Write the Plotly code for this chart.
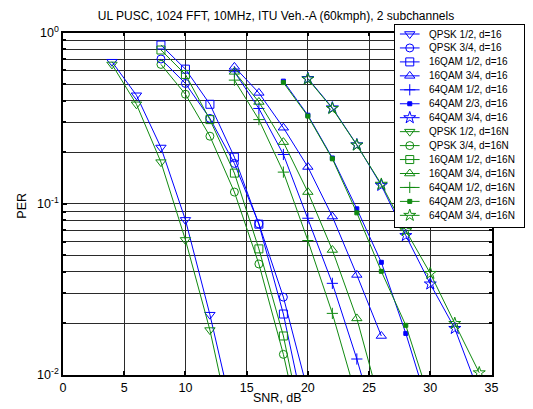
import plotly.graph_objects as go

# ---------------- data ----------------
snr_qpsk12 = [4, 6, 8, 10, 12, 14]
per_qpsk12_d16 = [0.675, 0.43, 0.213, 0.0805, 0.0225, 0.0054]
per_qpsk12_d16n = [0.651, 0.381, 0.175, 0.0615, 0.0183, 0.004]

snr_qpsk34 = [8, 10, 12, 14, 16, 18, 20]
per_qpsk34_d16 = [0.70, 0.504, 0.315, 0.172, 0.0763, 0.0285, 0.008]
per_qpsk34_d16n = [0.651, 0.436, 0.248, 0.117, 0.0445, 0.0132, 0.003]

snr_16qam12 = [8, 10, 12, 14, 16, 18, 20]
per_16qam12_d16 = [0.845, 0.611, 0.381, 0.187, 0.076, 0.0227, 0.0048]
per_16qam12_d16n = [0.79, 0.569, 0.31, 0.151, 0.0545, 0.0169, 0.0035]

snr_16qam34 = [14, 16, 18, 20, 22, 24, 26]
per_16qam34_d16 = [0.63, 0.444, 0.278, 0.164, 0.0842, 0.0384, 0.0169]
per_16qam34_d16n = [0.589, 0.393, 0.229, 0.117, 0.0537, 0.0214, 0.0064]

snr_64qam12_d16 = [14, 16, 18, 20, 22, 24, 26]
per_64qam12_d16 = [0.59, 0.36, 0.194, 0.0823, 0.0343, 0.0124, 0.004]
snr_64qam12_d16n = [14, 16, 18, 20, 22, 24]
per_64qam12_d16n = [0.527, 0.31, 0.153, 0.061, 0.0229, 0.0073]

snr_64qam23 = [18, 20, 22, 24, 26, 28, 30]
per_64qam23_d16 = [0.52, 0.329, 0.185, 0.0934, 0.0455, 0.0175, 0.006]
per_64qam23_d16n = [0.51, 0.325, 0.183, 0.0885, 0.0403, 0.0195, 0.007]

snr_64qam34 = [20, 22, 24, 26, 28, 30, 32, 34]
per_64qam34_d16 = [0.539, 0.363, 0.221, 0.128, 0.0652, 0.034, 0.0187, 0.0078]
per_64qam34_d16n = [0.535, 0.36, 0.22, 0.13, 0.0697, 0.0392, 0.020, 0.0103]

x_ticks = [0, 5, 10, 15, 20, 25, 30, 35]
y_ticks = [0.01, 0.1, 1.0]
y_ticktext = ["10<sup>-2</sup>", "10<sup>-1</sup>", "10<sup>0</sup>"]
y_minor = [k * 10.0 ** e for e in (-2, -1) for k in range(2, 10)]

title = "UL PUSC, 1024 FFT, 10MHz, ITU Veh.-A (60kmph), 2 subchannels"

BLUE = "#0000ff"
GREEN = "#108a10"

series = [
    ("QPSK 1/2, d=16", snr_qpsk12, per_qpsk12_d16, BLUE, "triangle-down-open", 9),
    ("QPSK 3/4, d=16", snr_qpsk34, per_qpsk34_d16, BLUE, "circle-open", 8),
    ("16QAM 1/2, d=16", snr_16qam12, per_16qam12_d16, BLUE, "square-open", 8),
    ("16QAM 3/4, d=16", snr_16qam34, per_16qam34_d16, BLUE, "triangle-up-open", 9),
    ("64QAM 1/2, d=16", snr_64qam12_d16, per_64qam12_d16, BLUE, "cross-thin-open", 8),
    ("64QAM 2/3, d=16", snr_64qam23, per_64qam23_d16, BLUE, "square", 4),
    ("64QAM 3/4, d=16", snr_64qam34, per_64qam34_d16, BLUE, "star-open", 9),
    ("QPSK 1/2, d=16N", snr_qpsk12, per_qpsk12_d16n, GREEN, "triangle-down-open", 9),
    ("QPSK 3/4, d=16N", snr_qpsk34, per_qpsk34_d16n, GREEN, "circle-open", 8),
    ("16QAM 1/2, d=16N", snr_16qam12, per_16qam12_d16n, GREEN, "square-open", 8),
    ("16QAM 3/4, d=16N", snr_16qam34, per_16qam34_d16n, GREEN, "triangle-up-open", 9),
    ("64QAM 1/2, d=16N", snr_64qam12_d16n, per_64qam12_d16n, GREEN, "cross-thin-open", 8),
    ("64QAM 2/3, d=16N", snr_64qam23, per_64qam23_d16n, GREEN, "square", 4),
    ("64QAM 3/4, d=16N", snr_64qam34, per_64qam34_d16n, GREEN, "star-open", 9),
]

FONT = "Liberation Sans, Arial, Helvetica, sans-serif"

fig = go.Figure()
for name, xs, ys, col, sym, size in series:
    fig.add_trace(go.Scatter(
        x=xs, y=ys, mode="lines+markers", name=name, showlegend=False,
        line=dict(color=col, width=1),
        marker=dict(symbol=sym, size=size, color=col, line=dict(color=col, width=1)),
        xaxis="x", yaxis="y",
    ))

# ---------------- hand-made legend box (second subplot) ----------------
LEG_W, LEG_H = 131, 202
row0, drow = 9, 13.95
for i, (name, xs, ys, col, sym, size) in enumerate(series):
    yy = row0 + drow * i
    fig.add_trace(go.Scatter(x=[5, 25], y=[yy, yy], mode="lines", showlegend=False,
                             line=dict(color=col, width=1), xaxis="x2", yaxis="y2",
                             hoverinfo="skip"))
    fig.add_trace(go.Scatter(x=[15], y=[yy], mode="markers", showlegend=False,
                             marker=dict(symbol=sym, size=size, color=col,
                                         line=dict(color=col, width=1)),
                             xaxis="x2", yaxis="y2", hoverinfo="skip"))
    fig.add_annotation(x=33, y=yy, xref="x2", yref="y2", text=name, showarrow=False,
                       xanchor="left", yanchor="middle",
                       font=dict(size=10, color="black", family=FONT))

W, H = 533, 409
ML, MR, MT, MB = 63, 1, 25, 34
PW, PH = W - ML - MR, H - MT - MB
x_right, y_top = 498, 32.5
leg_l, leg_r, leg_b = 400, 531, 227

GRID = "#2a2a2a"
axis_common = dict(
    showline=True, linecolor="black", linewidth=1.5, mirror="allticks",
    ticks="inside", tickcolor="black", tickwidth=1.5, ticklen=4,
    showgrid=True, gridcolor=GRID, gridwidth=1, zeroline=False,
    tickfont=dict(size=12.5, color="black", family=FONT),
)

fig.update_layout(
    width=W, height=H, autosize=False,
    margin=dict(l=ML, r=MR, t=MT, b=MB, pad=0),
    paper_bgcolor="white", plot_bgcolor="white",
    font=dict(family=FONT, color="black"),
    title=dict(text=title, x=276 / W, xanchor="center", y=1 - 16 / H, yanchor="middle",
               font=dict(size=12, color="black", family=FONT)),
    xaxis=dict(range=[0, 35], tickvals=x_ticks, ticktext=[str(v) for v in x_ticks],
               domain=[0, (x_right - ML) / PW], **axis_common),
    yaxis=dict(type="log", range=[-2, 0], tickvals=y_ticks, ticktext=y_ticktext,
               domain=[0, (H - MB - y_top) / PH],
               minor=dict(tickmode="array", tickvals=y_minor, ticks="inside",
                          ticklen=3, tickwidth=1.5, tickcolor="black",
                          showgrid=True, gridcolor=GRID, gridwidth=1),
               **axis_common),
    xaxis2=dict(range=[0, LEG_W], domain=[(leg_l - ML) / PW, (leg_r - ML) / PW],
                anchor="y2", showgrid=False, zeroline=False, showticklabels=False,
                ticks="", showline=True, linecolor="black", linewidth=1, mirror=True),
    yaxis2=dict(range=[LEG_H, 0], domain=[(H - MB - leg_b) / PH, 1.0],
                anchor="x2", showgrid=False, zeroline=False, showticklabels=False,
                ticks="", showline=True, linecolor="black", linewidth=1, mirror=True),
    showlegend=False,
)

fig.add_annotation(text="SNR, dB", xref="paper", yref="paper",
                   x=(281 - ML) / PW, y=(H - MB - 398) / PH, showarrow=False,
                   xanchor="center", yanchor="middle",
                   font=dict(size=12.5, color="black", family=FONT))
fig.add_annotation(text="PER", xref="paper", yref="paper", textangle=-90,
                   x=(21 - ML) / PW, y=(H - MB - 206) / PH, showarrow=False,
                   xanchor="center", yanchor="middle",
                   font=dict(size=12.5, color="black", family=FONT))

fig.write_html("out.html", config={"displayModeBar": False},
               post_script="document.body.style.margin='0';document.body.style.padding='0';")
